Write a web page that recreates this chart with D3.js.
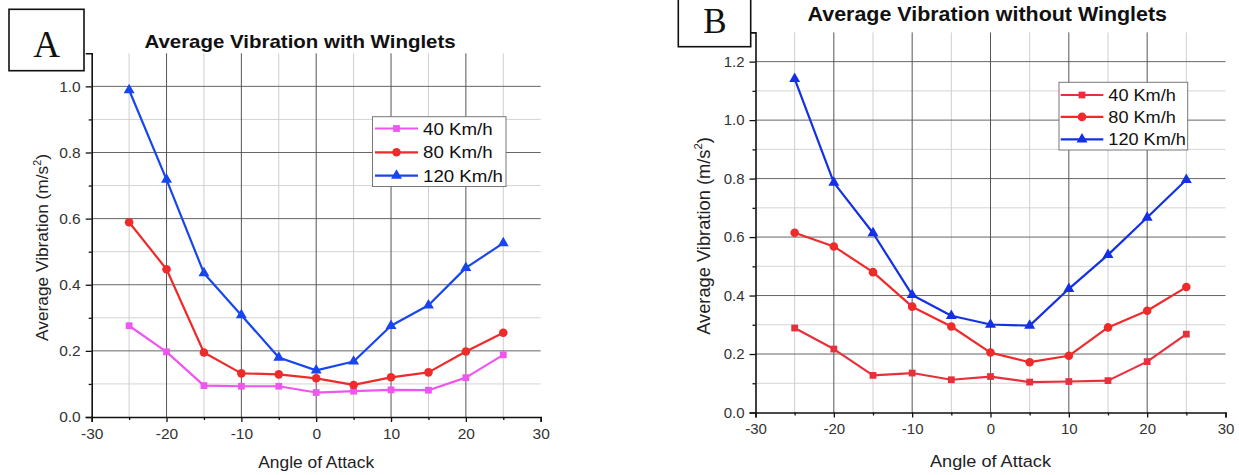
<!DOCTYPE html>
<html>
<head>
<meta charset="utf-8">
<script src="https://cdn.jsdelivr.net/npm/d3@7"></script>
<style>
  html, body { margin: 0; padding: 0; background: #fff; }
  svg { display: block; }
  text { font-family: "Liberation Sans", Arial, sans-serif; }
</style>
</head>
<body>
<svg id="chart" width="1239" height="475"></svg>
<script>
// ---- data ----
const angles = [-25, -20, -15, -10, -5, 0, 5, 10, 15, 20, 25];
const speeds = ["40 Km/h", "80 Km/h", "120 Km/h"];
const withW40  = [0.276, 0.197, 0.095, 0.093, 0.093, 0.074, 0.078, 0.082, 0.081, 0.119, 0.188];
const withW80  = [0.589, 0.447, 0.195, 0.132, 0.129, 0.117, 0.097, 0.120, 0.135, 0.198, 0.255];
const withW120 = [0.989, 0.718, 0.435, 0.308, 0.180, 0.141, 0.168, 0.276, 0.338, 0.451, 0.526];
const noW40  = [0.289, 0.217, 0.127, 0.135, 0.112, 0.123, 0.104, 0.106, 0.109, 0.174, 0.268];
const noW80  = [0.615, 0.568, 0.480, 0.362, 0.294, 0.205, 0.172, 0.194, 0.291, 0.348, 0.429];
const noW120 = [1.141, 0.786, 0.614, 0.402, 0.331, 0.301, 0.297, 0.423, 0.539, 0.667, 0.796];
const xMajorTicks = [-30, -20, -10, 0, 10, 20, 30];
const xMinorTicks = [-25, -15, -5, 5, 15, 25];
const xTickLabels = ["-30", "-20", "-10", "0", "10", "20", "30"];
const yMajorTicksA = [0, 0.2, 0.4, 0.6, 0.8, 1.0];
const yMajorTicksB = [0, 0.2, 0.4, 0.6, 0.8, 1.0, 1.2];
const titleA = "Average Vibration with Winglets";
const titleB = "Average Vibration without Winglets";
const xTitle = "Angle of Attack";

const svg = d3.select("#chart");

function stext(parent, x, y, str, size, o = {}) {
  return parent.append("text")
    .attr("transform", `translate(${x},${y}) scale(${o.sx ?? 1.1},1)`)
    .attr("text-anchor", o.anchor || "start")
    .style("font-size", size + "px")
    .style("font-weight", o.weight || "normal")
    .attr("fill", o.fill || "#111")
    .text(str);
}

const symbols = [d3.symbolSquare, d3.symbolCircle, d3.symbolTriangle];
const symSizes = [46, 58, 52];

function drawPanel(c) {
  const g = svg.append("g");
  const x = d3.scaleLinear().domain([-30, 30]).range(c.xr);
  const y = d3.scaleLinear().domain([0, c.ymax]).range(c.yr);
  const top = y(c.ymax), bottom = y(0), left = x(-30), right = x(30);

  // grid
  const hMinor = d3.range(1, Math.round(c.ymax * 10)).map(v => v / 10).filter(v => Math.round(v * 10) % 2 === 1);
  const hMajor = c.yticks.filter(v => v > 0);
  g.selectAll(".hmin").data(hMinor).join("line")
    .attr("x1", left).attr("x2", right).attr("y1", d => y(d)).attr("y2", d => y(d))
    .attr("stroke", "#d4d4d4").attr("stroke-width", 1);
  g.selectAll(".vmin").data(xMinorTicks).join("line")
    .attr("x1", d => x(d)).attr("x2", d => x(d)).attr("y1", top).attr("y2", bottom)
    .attr("stroke", "#cfcfcf").attr("stroke-width", 1);
  g.selectAll(".hmaj").data(hMajor).join("line")
    .attr("x1", left).attr("x2", right).attr("y1", d => y(d)).attr("y2", d => y(d))
    .attr("stroke", "#666").attr("stroke-width", 1);
  g.selectAll(".vmaj").data(xMajorTicks.filter(v => v > -30 && v < 30)).join("line")
    .attr("x1", d => x(d)).attr("x2", d => x(d)).attr("y1", top).attr("y2", bottom)
    .attr("stroke", "#555").attr("stroke-width", 1);

  // axes
  const xa = g.append("g").attr("transform", `translate(0,${bottom})`)
    .call(d3.axisBottom(x).tickValues(xMajorTicks).tickSize(5).tickPadding(6)
      .tickFormat(d => xTickLabels[xMajorTicks.indexOf(d)]));
  g.append("g").attr("transform", `translate(0,${bottom})`)
    .call(d3.axisBottom(x).tickValues(xMinorTicks).tickSize(3).tickFormat(""))
    .select(".domain").remove();
  const ya = g.append("g").attr("transform", `translate(${left},0)`)
    .call(d3.axisLeft(y).tickValues(c.yticks).tickSize(6).tickPadding(5).tickFormat(d => d.toFixed(1)));
  g.append("g").attr("transform", `translate(${left},0)`)
    .call(d3.axisLeft(y).tickValues(hMinor).tickSize(3).tickFormat(""))
    .select(".domain").remove();
  [xa, ya].forEach(a => {
    a.selectAll(".tick text").attr("fill", "#333").style("font-size", c.tickFont + "px")
      .style("font-family", '"Liberation Sans", Arial, sans-serif');
  });
  g.selectAll(".tick line").attr("stroke", "#111").attr("stroke-width", 1.3);
  g.selectAll(".domain").attr("stroke", "#111").attr("stroke-width", 1.6);

  // series
  const line = d3.line().x((d, i) => x(angles[i])).y(d => y(d));
  c.series.forEach((s, k) => {
    g.append("path").datum(s).attr("d", line)
      .attr("fill", "none").attr("stroke", c.colors[k]).attr("stroke-width", 2.2)
      .attr("stroke-linejoin", "round");
    g.selectAll(null).data(s).join("path")
      .attr("transform", (d, i) => `translate(${x(angles[i])},${y(d)})`)
      .attr("d", d3.symbol(symbols[k], symSizes[k]))
      .attr("fill", c.colors[k]);
  });

  // legend
  const L = c.legend;
  g.append("rect").attr("x", L.x0).attr("y", L.y0).attr("width", L.x1 - L.x0).attr("height", L.y1 - L.y0)
    .attr("fill", "#fff").attr("stroke", "#777").attr("stroke-width", 1);
  speeds.forEach((name, k) => {
    const ry = L.rows[k];
    g.append("line").attr("x1", L.lx0).attr("x2", L.lx1).attr("y1", ry).attr("y2", ry)
      .attr("stroke", c.colors[k]).attr("stroke-width", 2.2);
    g.append("path").attr("transform", `translate(${(L.lx0 + L.lx1) / 2},${ry})`)
      .attr("d", d3.symbol(symbols[k], symSizes[k])).attr("fill", c.colors[k]);
    stext(g, L.tx, ry + L.font * 0.36, name, L.font, { sx: 1.1 });
  });

  // titles
  stext(g, c.title.x, c.title.y, c.title.text, c.title.size, { anchor: "middle", weight: "bold", sx: 1.1 });
  stext(g, (left + right) / 2, c.xTitleY, xTitle, c.xTitleSize, { anchor: "middle", sx: 1.1, fill: "#222" });
  const yt = g.append("text")
    .attr("transform", `translate(${c.yTitle.x},${c.yTitle.cy}) rotate(-90)`)
    .attr("text-anchor", "middle").style("font-size", c.yTitle.size + "px").attr("fill", "#222");
  yt.append("tspan").text("Average Vibration (m/s");
  yt.append("tspan").attr("dy", -c.yTitle.size * 0.42).style("font-size", (c.yTitle.size * 0.62) + "px").text("2");
  yt.append("tspan").attr("dy", c.yTitle.size * 0.42).text(")");

  // panel letter box
  const B = c.box;
  g.append("rect").attr("x", B.x0).attr("y", B.y0).attr("width", B.x1 - B.x0).attr("height", B.y1 - B.y0)
    .attr("fill", "#fff").attr("stroke", "#111").attr("stroke-width", 1.6);
  g.append("text").attr("x", B.cx).attr("y", B.by).attr("text-anchor", "middle")
    .style("font-family", '"Liberation Serif", "Times New Roman", serif')
    .style("font-size", B.size + "px").attr("fill", "#111").text(B.letter);
}

drawPanel({
  xr: [91.7, 540.7], yr: [417, 53.3], ymax: 1.1, yticks: yMajorTicksA, tickFont: 15.5,
  series: [withW40, withW80, withW120], colors: ["#ef55ef", "#ee2b2b", "#1846ee"],
  legend: { x0: 372.5, x1: 506, y0: 116.7, y1: 186.5, rows: [128.5, 152.3, 175.7], lx0: 375, lx1: 418, tx: 423, font: 17 },
  title: { x: 300, y: 48.3, text: titleA, size: 18.6 },
  xTitleY: 467.5, xTitleSize: 15.8,
  yTitle: { x: 48, cy: 247.5, size: 17.3 },
  box: { x0: 9, x1: 84, y0: 9.3, y1: 70.7, cx: 46.5, by: 57, size: 37, letter: "A" }
});

drawPanel({
  xr: [755.5, 1225.5], yr: [412.5, 32.4], ymax: 1.3, yticks: yMajorTicksB, tickFont: 15,
  series: [noW40, noW80, noW120], colors: ["#e8303c", "#f02a2a", "#1430e6"],
  legend: { x0: 1059, x1: 1187.7, y0: 82.3, y1: 150, rows: [95, 116.9, 139.3], lx0: 1060.7, lx1: 1103.3, tx: 1108.3, font: 16.5 },
  title: { x: 987.3, y: 20.7, text: titleB, size: 19.5 },
  xTitleY: 466.7, xTitleSize: 16.5,
  yTitle: { x: 710, cy: 236, size: 18.3 },
  box: { x0: 678.3, x1: 750.7, y0: -2, y1: 46.7, cx: 715, by: 33.3, size: 35, letter: "B" }
});
</script>
</body>
</html>
